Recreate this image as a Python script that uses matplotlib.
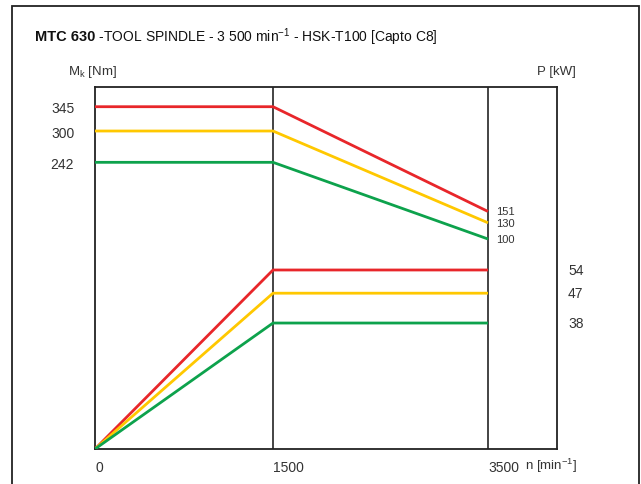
import numpy as np
import matplotlib
matplotlib.use("Agg")
import matplotlib.pyplot as plt
from matplotlib.patches import Rectangle
import matplotlib.transforms as mtransforms

plt.rcParams['font.family'] = ['Liberation Sans', 'DejaVu Sans']
plt.rcParams['mathtext.default'] = 'regular'

# ---- data ----
speed_knots = [0, 1500, 3500]            # n [min^-1]
xtick_labels = ["0", "1500", "3500"]
series_names = ["S6-25%", "S6-40%", "S1"]
series_colors = ["#e8262a", "#ffc800", "#0da24c"]
torque_start = [345, 300, 242]           # Nm, constant up to 1500
torque_end = [151, 130, 100]             # Nm at 3500
power_max = [54, 47, 38]                 # kW reached at 1500

# ---- non-linear (schematic) speed scale ----
_kx = np.array([0, 1500, 3500, 5000], dtype=float)
_ky = np.array([0, 178, 393, 393 + 1500 * 215 / 2000], dtype=float)
def fwd(x):
    return np.interp(x, _kx, _ky)
def inv(y):
    return np.interp(y, _ky, _kx)

W, H = 641, 485
fig = plt.figure(figsize=(W / 100, H / 100), dpi=100)
fig.patch.set_facecolor("white")

# outer border
fig.patches.append(Rectangle((12 / W, -0.1), (639 - 12) / W, 1.1 - 7 / H,
                             transform=fig.transFigure, fill=False,
                             edgecolor="#222222", linewidth=1.3, zorder=0))

ax = fig.add_axes([95 / W, 1 - 450 / H, 462 / W, 362 / H])
ax.set_xscale('function', functions=(fwd, inv))
ax.set_xlim(0, inv(462))
ax.set_ylim(-288.9, 381.5)

ax2 = ax.twinx()
ax2.set_ylim(0, 109.2)

for sp in ax.spines.values():
    sp.set_linewidth(1.3)
    sp.set_color("#222222")
for sp in ax2.spines.values():
    sp.set_visible(False)

# grid verticals
for xv in speed_knots[1:]:
    ax.axvline(xv, color="#111111", linewidth=1.1, zorder=1)

lw = 2.0
for i in range(3):
    c = series_colors[i]
    ax.plot([speed_knots[0], speed_knots[1], speed_knots[2]],
            [torque_start[i], torque_start[i], torque_end[i]],
            color=c, linewidth=lw, solid_capstyle='butt', zorder=3)
    ax2.plot([speed_knots[0], speed_knots[1], speed_knots[2]],
             [0, power_max[i], power_max[i]],
             color=c, linewidth=lw, solid_capstyle='butt', zorder=3)
    ax.annotate(str(torque_end[i]), xy=(speed_knots[2], torque_end[i]),
                xytext=(6, 0), textcoords='offset points',
                ha='left', va='center', fontsize=8, color="#333333")
    ax2.text(1.024, power_max[i], str(power_max[i]),
             transform=mtransforms.blended_transform_factory(ax2.transAxes, ax2.transData),
             ha='left', va='center', fontsize=10, color="#333333")

# ticks
ax.set_yticks(torque_start)
ax.set_yticklabels([str(v) for v in torque_start], fontsize=10, color="#333333")
ax.tick_params(axis='y', length=0, pad=15)
ax.set_xticks(speed_knots)
ax.set_xticklabels(xtick_labels, fontsize=10, color="#333333")
for lab in ax.get_xticklabels():
    lab.set_ha('left')
ax.tick_params(axis='x', length=0, pad=8)
ax2.set_yticks([])

# axis titles
fig.text(68 / W, 1 - 72 / H, "M$_\\mathregular{k}$ [Nm]", fontsize=9.5,
         ha='left', va='center', color="#333333")
fig.text(537 / W, 1 - 72 / H, "P [kW]", fontsize=9.5, ha='left', va='center',
         color="#333333")
fig.text(525 / W, 1 - 466 / H, "n [min$^{\\mathregular{-1}}$]", fontsize=9.5,
         ha='left', va='center', color="#333333")

# title
t1 = fig.text(35 / W, 1 - 37 / H, "MTC 630", fontsize=10.5, fontweight='bold',
              ha='left', va='center', color="#111111")
fig.canvas.draw()
bb = t1.get_window_extent(renderer=fig.canvas.get_renderer())
fig.text(bb.x1 / W, 1 - 37 / H,
         " -TOOL SPINDLE - 3 500 min$^{\\mathregular{-1}}$ - HSK-T100 [Capto C8]",
         fontsize=10, ha='left', va='center', color="#111111")

fig.savefig("out.png", dpi=100)
